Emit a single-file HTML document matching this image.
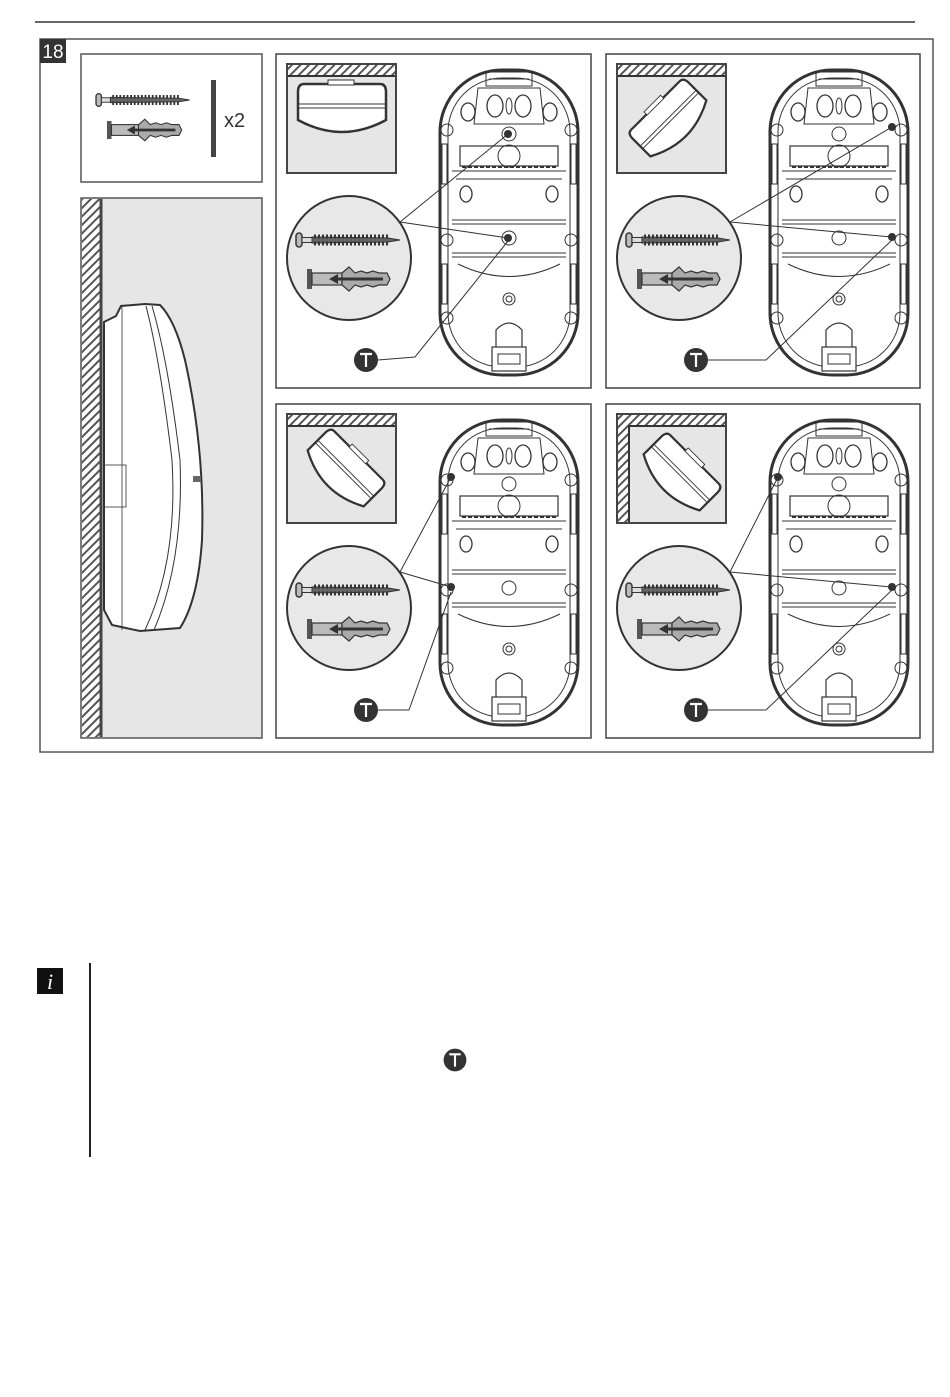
<!DOCTYPE html>
<html><head><meta charset="utf-8"><style>
html,body{margin:0;padding:0;background:#fff;}
body{width:950px;height:1397px;position:relative;overflow:hidden;font-family:"Liberation Sans",sans-serif;}
</style></head><body>
<svg width="950" height="1397" viewBox="0 0 950 1397" xmlns="http://www.w3.org/2000/svg" style="position:absolute;left:0;top:0">
<defs>
<pattern id="h" width="6" height="6" patternUnits="userSpaceOnUse" patternTransform="rotate(45)">
<rect width="6" height="6" fill="#fff"/><rect width="2" height="6" fill="#555"/></pattern>
<g id="screw">
<rect x="0" y="-7" width="6" height="14" rx="3" fill="#bbb" stroke="#333" stroke-width="1.5"/>
<rect x="6" y="-2.5" width="10" height="5" fill="#ddd" stroke="#333" stroke-width="1"/>
<path d="M16,-3 L92,-2 L104,0 L92,2 L16,3Z" fill="#666" stroke="#333" stroke-width="1"/>
<path d="M18,-3.5 L92,-3.5 M18,3.5 L92,3.5" stroke="#333" stroke-width="4" stroke-dasharray="2,2"/>
</g>
<g id="anchor">
<rect x="0" y="-10" width="5" height="20" fill="#555"/>
<rect x="5" y="-6" width="30" height="12" fill="#bbb" stroke="#333" stroke-width="1.2"/>
<path d="M35,-6 L42,-12 L48,-6 L54,-8 L60,-6 L66,-8 L72,-6 L80,-6 L83,0 L80,6 L72,6 L66,8 L60,6 L54,8 L48,6 L42,12 L35,6Z" fill="#aaa" stroke="#333" stroke-width="1.2"/>
<path d="M22,0 L31,-5 L31,-1.5 L76,-1.5 L76,1.5 L31,1.5 L31,5Z" fill="#333"/>
</g>
<g id="det" fill="none" stroke="#333">
<rect x="164" y="16" width="138" height="305" rx="62" stroke-width="3" fill="#fff"/>
<rect x="172" y="24" width="122" height="289" rx="54" stroke-width="1"/>
<rect x="210" y="18" width="46" height="14" stroke-width="1"/>
<line x1="213" y1="25" x2="253" y2="25" stroke-width="1"/>
<path d="M202,34 L264,34 L268,70 L198,70Z" stroke-width="1"/>
<ellipse cx="219" cy="52" rx="8" ry="11" stroke-width="1.3"/>
<ellipse cx="247" cy="52" rx="8" ry="11" stroke-width="1.3"/>
<ellipse cx="233" cy="52" rx="3" ry="8" stroke-width="1"/>
<ellipse cx="192" cy="58" rx="7" ry="9" stroke-width="1.3"/>
<ellipse cx="274" cy="58" rx="7" ry="9" stroke-width="1.3"/>
<circle cx="233" cy="80" r="7" stroke-width="1"/>
<rect x="184" y="92" width="98" height="20" stroke-width="1.2"/>
<circle cx="233" cy="102" r="11" stroke-width="1"/>
<line x1="186" y1="113" x2="280" y2="113" stroke-width="2" stroke-dasharray="4,2"/>
<line x1="176" y1="117" x2="290" y2="117" stroke-width="1"/>
<line x1="180" y1="125" x2="286" y2="125" stroke-width="1"/>
<ellipse cx="190" cy="140" rx="6" ry="8" stroke-width="1.3"/>
<ellipse cx="276" cy="140" rx="6" ry="8" stroke-width="1.3"/>
<line x1="176" y1="166" x2="290" y2="166" stroke-width="1"/>
<line x1="176" y1="170" x2="290" y2="170" stroke-width="1"/>
<circle cx="233" cy="184" r="7" stroke-width="1"/>
<line x1="176" y1="199" x2="290" y2="199" stroke-width="1"/>
<line x1="176" y1="203" x2="290" y2="203" stroke-width="1"/>
<circle cx="233" cy="245" r="6" stroke-width="1"/><circle cx="233" cy="245" r="3" stroke-width="1"/>
<path d="M182,210 Q233,235 284,210" stroke-width="1"/>
<path d="M220,298 L220,276 Q233,262 246,276 L246,298" stroke-width="1.2"/>
<rect x="216" y="293" width="34" height="24" stroke-width="1.2" fill="#fff"/>
<rect x="222" y="300" width="22" height="10" stroke-width="1"/>
<circle cx="171" cy="76" r="6" stroke-width="1"/><circle cx="295" cy="76" r="6" stroke-width="1"/>
<circle cx="171" cy="186" r="6" stroke-width="1"/><circle cx="295" cy="186" r="6" stroke-width="1"/>
<circle cx="171" cy="264" r="6" stroke-width="1"/><circle cx="295" cy="264" r="6" stroke-width="1"/>
<rect x="166" y="90" width="5" height="40" stroke-width="1"/><rect x="295" y="90" width="5" height="40" stroke-width="1"/>
<rect x="166" y="210" width="5" height="40" stroke-width="1"/><rect x="295" y="210" width="5" height="40" stroke-width="1"/>
</g>
<g id="zoomc">
<circle cx="73" cy="204" r="62" fill="#e8e8e8" stroke="#333" stroke-width="2"/>
<use href="#screw" transform="translate(20,186)"/>
<use href="#anchor" transform="translate(31,225)"/>
</g>
<g id="tb">
<circle cx="0" cy="0" r="12" fill="#333"/>
<path d="M-6,-6 L6,-6 M0,-6 L0,7" stroke="#fff" stroke-width="2.2"/>
</g>
<g id="sensor">
<path d="M-38,-26 L38,-26 Q44,-26 44,-18 L44,10 Q0,34 -44,10 L-44,-18 Q-44,-26 -38,-26Z" fill="#fff" stroke="#333" stroke-width="2.5"/>
<line x1="-44" y1="-6" x2="44" y2="-6" stroke="#333" stroke-width="1"/>
<line x1="-44" y1="-2" x2="44" y2="-2" stroke="#333" stroke-width="1"/>
<rect x="-14" y="-30" width="26" height="5" fill="#fff" stroke="#333" stroke-width="1"/>
</g>
</defs>

<line x1="35" y1="22" x2="915" y2="22" stroke="#333" stroke-width="1.5"/>
<rect x="40" y="39" width="893" height="713" fill="none" stroke="#555" stroke-width="1.5"/>
<rect x="40" y="39" width="26" height="24" fill="#333"/>
<text x="53" y="58" font-size="19" fill="#fff" text-anchor="middle" font-family="Liberation Sans, sans-serif">18</text>

<rect x="81" y="54" width="181" height="128" fill="#fff" stroke="#555" stroke-width="1.5"/>
<use href="#screw" transform="translate(96,100) scale(0.9,0.9)"/>
<use href="#anchor" transform="translate(107,130) scale(0.9,0.9)"/>
<rect x="211" y="80" width="5" height="77" fill="#444"/>
<text x="224" y="127" font-size="20" fill="#333" font-family="Liberation Sans, sans-serif">x2</text>

<rect x="81" y="198" width="181" height="540" fill="#e6e6e6" stroke="#555" stroke-width="1.5"/>
<rect x="82" y="199" width="18" height="538" fill="url(#h)"/>
<line x1="101" y1="199" x2="101" y2="737" stroke="#444" stroke-width="3"/>
<path d="M104,322 L116,316 L121,306 L145,304 L160,305 Q175,320 185,360 Q205,450 202,540 Q198,600 180,628 L140,631 L112,625 L104,610Z" fill="#fff" stroke="#333" stroke-width="2"/>
<path d="M146,306 Q160,360 172,460 Q178,560 145,630" fill="none" stroke="#333" stroke-width="1"/>
<path d="M152,306 Q168,360 180,460 Q184,560 154,630" fill="none" stroke="#333" stroke-width="1"/>
<line x1="122" y1="306" x2="122" y2="630" stroke="#333" stroke-width="0.8"/>
<rect x="104" y="465" width="22" height="42" fill="none" stroke="#333" stroke-width="0.8"/>
<rect x="193" y="476" width="8" height="6" fill="#666"/>

<g transform="translate(276,54)">
<rect width="315" height="334" fill="#fff" stroke="#444" stroke-width="1.5"/>
<rect x="11" y="10" width="109" height="109" fill="#e6e6e6" stroke="#444" stroke-width="2"/>
<rect x="12" y="11" width="107" height="11" fill="url(#h)"/>
<line x1="12" y1="22" x2="119" y2="22" stroke="#333" stroke-width="2"/>
<use href="#sensor" transform="translate(66,56)"/>
<use href="#det"/>
<use href="#zoomc"/>
<g stroke="#333" stroke-width="1" fill="none"><path d="M124,168 L232,80 M124,168 L232,184 M102,306 L139,303 L232,187"/></g>
<circle cx="232" cy="80" r="4" fill="#333"/><circle cx="232" cy="184" r="4" fill="#333"/>
<use href="#tb" transform="translate(90,306)"/>
</g>

<g transform="translate(606,54)">
<rect width="314" height="334" fill="#fff" stroke="#444" stroke-width="1.5"/>
<rect x="11" y="10" width="109" height="109" fill="#e6e6e6" stroke="#444" stroke-width="2"/>
<rect x="12" y="11" width="107" height="11" fill="url(#h)"/>
<line x1="12" y1="22" x2="119" y2="22" stroke="#333" stroke-width="2"/>
<use href="#sensor" transform="translate(66,68) rotate(-45) scale(0.9)"/>
<use href="#det"/>
<use href="#zoomc"/>
<g stroke="#333" stroke-width="1" fill="none"><path d="M124,168 L286,73 M124,168 L286,183 M102,306 L160,306 L286,186"/></g>
<circle cx="286" cy="73" r="4" fill="#333"/><circle cx="286" cy="183" r="4" fill="#333"/>
<use href="#tb" transform="translate(90,306)"/>
</g>

<g transform="translate(276,404)">
<rect width="315" height="334" fill="#fff" stroke="#444" stroke-width="1.5"/>
<rect x="11" y="10" width="109" height="109" fill="#e6e6e6" stroke="#444" stroke-width="2"/>
<rect x="12" y="11" width="107" height="11" fill="url(#h)"/>
<line x1="12" y1="22" x2="119" y2="22" stroke="#333" stroke-width="2"/>
<use href="#sensor" transform="translate(66,68) rotate(45) scale(0.9)"/>
<use href="#det"/>
<use href="#zoomc"/>
<g stroke="#333" stroke-width="1" fill="none"><path d="M124,168 L175,73 M124,168 L175,183 M102,306 L133,306 L175,188"/></g>
<circle cx="175" cy="73" r="4" fill="#333"/><circle cx="175" cy="183" r="4" fill="#333"/>
<use href="#tb" transform="translate(90,306)"/>
</g>

<g transform="translate(606,404)">
<rect width="314" height="334" fill="#fff" stroke="#444" stroke-width="1.5"/>
<rect x="11" y="10" width="109" height="109" fill="#e6e6e6" stroke="#444" stroke-width="2"/>
<rect x="12" y="11" width="107" height="11" fill="url(#h)"/>
<rect x="12" y="11" width="11" height="107" fill="url(#h)"/>
<path d="M23,118 L23,22 L119,22" stroke="#333" stroke-width="2" fill="none"/>
<use href="#sensor" transform="translate(72,72) rotate(45) scale(0.9)"/>
<use href="#det"/>
<use href="#zoomc"/>
<g stroke="#333" stroke-width="1" fill="none"><path d="M124,168 L172,73 M124,168 L286,183 M102,306 L160,306 L286,186"/></g>
<circle cx="172" cy="73" r="4" fill="#333"/><circle cx="286" cy="183" r="4" fill="#333"/>
<use href="#tb" transform="translate(90,306)"/>
</g>

<rect x="37" y="968" width="26" height="26" fill="#111"/>
<text x="50" y="989" font-size="22" fill="#fff" text-anchor="middle" font-style="italic" font-family="Liberation Serif, serif">i</text>
<line x1="90" y1="963" x2="90" y2="1157" stroke="#222" stroke-width="2"/>
<use href="#tb" transform="translate(455,1060) scale(0.95)"/>
</svg>
</body></html>
